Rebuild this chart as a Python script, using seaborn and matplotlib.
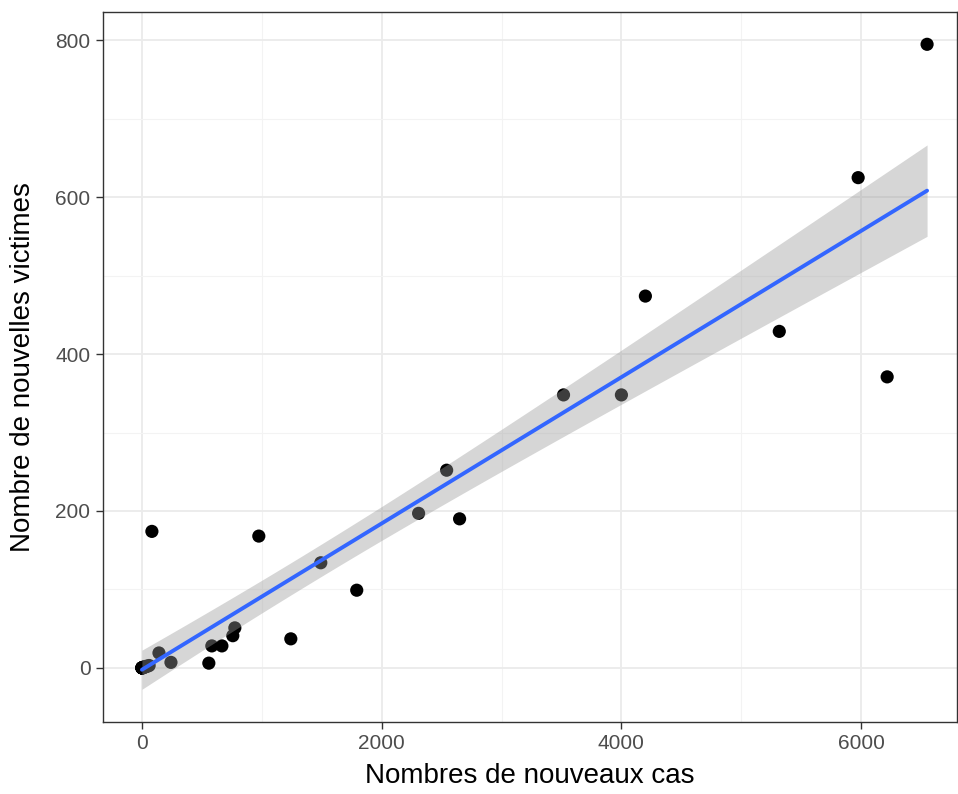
import numpy as np
import pandas as pd
import matplotlib
matplotlib.use("Agg")
import matplotlib.pyplot as plt
from matplotlib.ticker import MultipleLocator
import seaborn as sns

# many early days sit on top of each other at the origin
nouveaux_cas = [0, 0, 0, 0, 0, 0, 1, 2, 3, 5, 8, 12, 18, 25, 35, 45,
                60, 83, 142, 242, 558, 583, 667, 758, 775, 975, 1242, 1492,
                1792, 2308, 2542, 2650, 3517, 4000, 4200, 5317, 5975, 6217, 6550]
nouvelles_victimes = [0, 0, 0, 0, 0, 0, 0, 0, 0, 0, 0, 1, 1, 1, 2, 2,
                      3, 174, 19, 7, 6, 28, 28, 41, 51, 168, 37, 134,
                      99, 197, 252, 190, 348, 348, 474, 429, 625, 371, 795]

df = pd.DataFrame({"cas": nouveaux_cas, "victimes": nouvelles_victimes})

sns.set_theme(style="white")
plt.rcParams['font.family'] = ['Liberation Sans', 'DejaVu Sans']

fig = plt.figure(figsize=(9.58, 7.94), dpi=100)
ax = fig.add_axes([0.1075, 0.0907, 0.8915, 0.894])

sns.regplot(data=df, x="cas", y="victimes", ax=ax, ci=None,
            scatter_kws=dict(s=90, color="black", edgecolor="none", alpha=1, zorder=2),
            line_kws=dict(color="#3366FF", lw=2.8, zorder=4))

# analytic 95% confidence band (as in ggplot2 geom_smooth(method="lm"))
x = np.asarray(nouveaux_cas, float)
y = np.asarray(nouvelles_victimes, float)
n = len(x)
b1, b0 = np.polyfit(x, y, 1)
resid = y - (b0 + b1 * x)
s = np.sqrt(np.sum(resid ** 2) / (n - 2))
grid = np.linspace(x.min(), x.max(), 200)
se = s * np.sqrt(1 / n + (grid - x.mean()) ** 2 / np.sum((x - x.mean()) ** 2))
tcrit = 2.026  # t(0.975, df=37)
fit = b0 + b1 * grid
ax.fill_between(grid, fit - tcrit * se, fit + tcrit * se, color="#999999",
                alpha=0.4, lw=0, zorder=3)

ax.set_xlim(-325, 6800)
ax.set_ylim(-69, 836)
ax.xaxis.set_major_locator(MultipleLocator(2000))
ax.xaxis.set_minor_locator(MultipleLocator(1000))
ax.yaxis.set_major_locator(MultipleLocator(200))
ax.yaxis.set_minor_locator(MultipleLocator(100))
ax.grid(True, which="major", color="#EBEBEB", lw=1.3)
ax.grid(True, which="minor", color="#F3F3F3", lw=0.8)
ax.set_axisbelow(True)
for sp in ax.spines.values():
    sp.set_color("#333333")
    sp.set_linewidth(1.0)
ax.tick_params(which="major", direction="out", length=5, width=1.0, color="#333333",
               labelsize=15, labelcolor="#4D4D4D", bottom=True, left=True, pad=4)
ax.tick_params(which="minor", length=0)
ax.set_xlabel("Nombres de nouveaux cas", fontsize=20, color="black", labelpad=7)
ax.set_ylabel("Nombre de nouvelles victimes", fontsize=20, color="black", labelpad=14)

fig.savefig("out.png", dpi=100)
